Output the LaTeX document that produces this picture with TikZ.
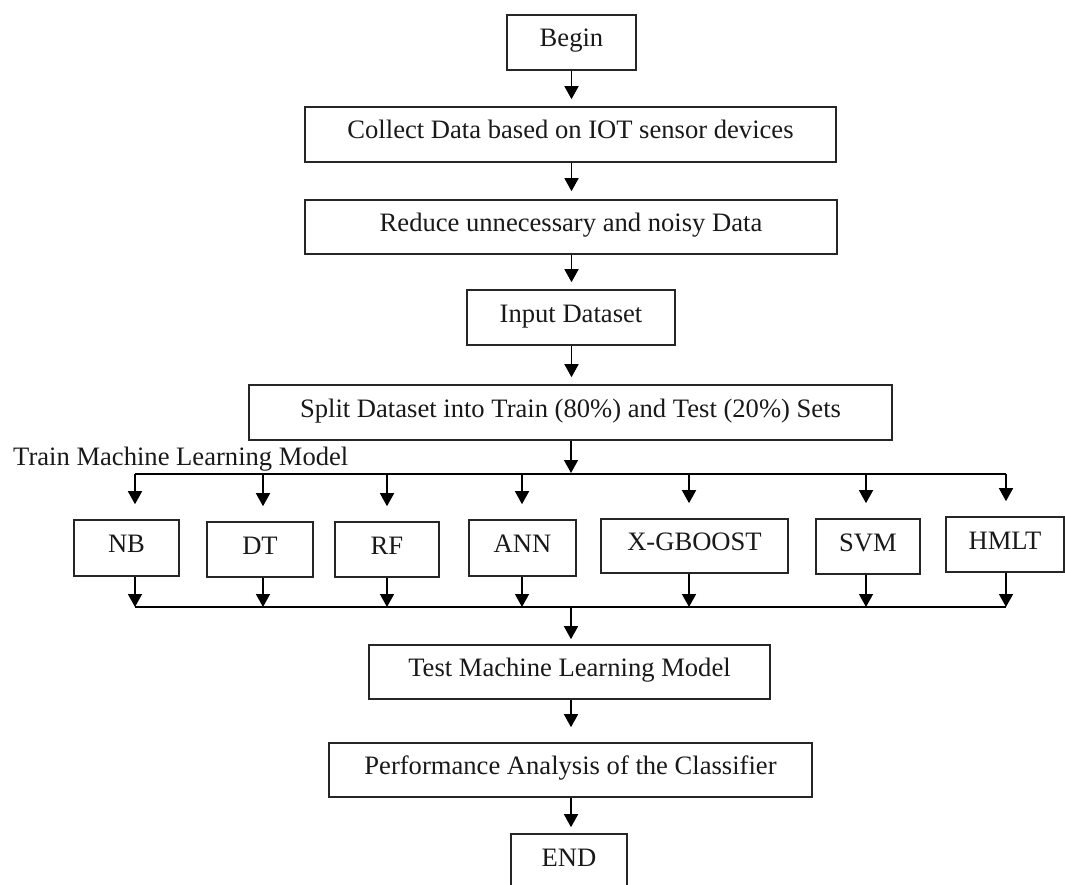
\documentclass[tikz,border=0pt]{standalone}
\usepackage{fontspec}
\setmainfont{Liberation Serif}
\usetikzlibrary{arrows.meta}
\begin{document}
\begin{tikzpicture}[x=1pt,y=-1pt,
  box/.style={draw=black!85, line width=1.6pt, inner sep=0pt, text height=17pt, text depth=8pt,
              font=\fontsize{26.6}{30}\selectfont, text=black!90},
  conn/.style={line width=1.5pt, draw=black, -{Triangle[width=14pt,length=13pt]}},
  bus/.style={line width=1.5pt, draw=black}]
\useasboundingbox (0,0) rectangle (1065,885);
\clip (0,0) rectangle (1065,885);
% main chain
\node[box,minimum width=129pt,minimum height=55pt] (begin)   at (571.5,42.5) {Begin};
\node[box,minimum width=531pt,minimum height=55pt] (collect) at (570.5,134.5) {Collect Data based on IOT sensor devices};
\node[box,minimum width=532pt,minimum height=54pt] (reduce)  at (571,227) {Reduce unnecessary and noisy Data};
\node[box,minimum width=208pt,minimum height=55pt] (input)   at (571,317.5) {Input Dataset};
\node[box,minimum width=643pt,minimum height=55pt] (split)   at (570.5,412.5) {Split Dataset into Train (80\%) and Test (20\%) Sets};
\node[anchor=base west, inner sep=0pt, font=\fontsize{26.6}{30}\selectfont, text=black!90] (trainlbl) at (13,465) {Train Machine Learning Model};
% classifiers
\node[box,minimum width=105pt,minimum height=56pt] (nb)   at (126.5,548) {NB};
\node[box,minimum width=106pt,minimum height=55pt] (dt)   at (260,549.5) {DT};
\node[box,minimum width=104pt,minimum height=55pt] (rf)   at (387,549.5) {RF};
\node[box,minimum width=107pt,minimum height=56pt] (ann)  at (522.5,548) {ANN};
\node[box,minimum width=187pt,minimum height=54pt] (xg)   at (694.5,546) {X-GBOOST};
\node[box,minimum width=104pt,minimum height=55pt] (svm)  at (868,546.5) {SVM};
\node[box,minimum width=118pt,minimum height=55pt] (hmlt) at (1005,544.5) {HMLT};
% lower chain
\node[box,minimum width=401pt,minimum height=54pt] (test) at (569.5,672) {Test Machine Learning Model};
\node[box,minimum width=483pt,minimum height=54pt] (perf) at (570.5,770) {Performance Analysis of the Classifier};
\node[box,minimum width=116pt,minimum height=55pt] (end)  at (569,861.5) {END};
% bus coordinates
\coordinate (busT) at (571,474);
\coordinate (busB) at (571,607);
% main arrows
\draw[conn,shorten >=7pt] (begin.south) -- (begin.south |- collect.north);
\draw[conn,shorten >=8pt] (collect.south -| begin.south) -- (begin.south |- reduce.north);
\draw[conn,shorten >=7pt] (reduce.south -| begin.south) -- (begin.south |- input.north);
\draw[conn,shorten >=7pt] (input.south -| begin.south) -- (begin.south |- split.north);
\draw[conn,shorten >=1pt] (split.south -| busT) -- (busT);
% branches
\foreach \n/\ax in {nb/135,dt/263,rf/387,ann/522,xg/689,svm/866,hmlt/1006}{
  \coordinate (t-\n) at (\ax,474);
  \coordinate (b-\n) at (\ax,607);
  \draw[conn,shorten >=15pt] (t-\n) -- (t-\n |- \n.north);
  \draw[conn] (t-\n |- \n.south) -- (b-\n);
}
\draw[bus] (t-nb) -- (t-hmlt);
\draw[bus] (b-nb) -- (b-hmlt);
% lower arrows
\draw[conn,shorten >=5pt] (busB) -- (busB |- test.north);
\draw[conn,shorten >=15pt] (test.south -| busB) -- (busB |- perf.north);
\draw[conn,shorten >=6pt] (perf.south -| busB) -- (busB |- end.north);
\end{tikzpicture}
\end{document}
